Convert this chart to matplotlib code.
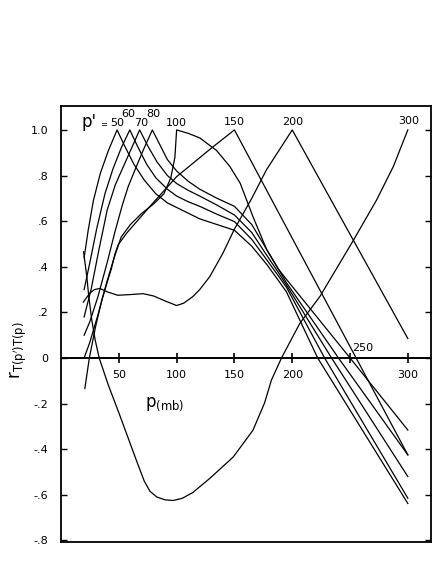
import matplotlib
matplotlib.use("Agg")
import matplotlib.pyplot as plt

# pressure (mb) and correlation values, one curve per p'
p50 = [20, 23.5, 28, 34, 41, 48.5, 55, 63, 72, 82, 92, 100, 110, 120, 135, 150, 165, 178, 188, 195, 222, 300]
r50 = [0.44, 0.56, 0.69, 0.81, 0.91, 1.0, 0.93, 0.85, 0.78, 0.72, 0.68, 0.66, 0.635, 0.61, 0.585, 0.56, 0.49, 0.41, 0.34, 0.29, 0.0, -0.638]

p60 = [20, 25, 31, 38, 45, 52, 59.5, 66, 74, 82, 92, 100, 110, 120, 135, 150, 165, 178, 188, 195, 228, 300]
r60 = [0.30, 0.42, 0.57, 0.72, 0.83, 0.92, 1.0, 0.93, 0.85, 0.79, 0.74, 0.71, 0.685, 0.665, 0.63, 0.598, 0.52, 0.43, 0.36, 0.31, 0.0, -0.615]

p70 = [20, 26, 33, 40, 47, 54, 61, 68, 75, 83, 92, 100, 110, 120, 135, 150, 165, 178, 188, 195, 234, 300]
r70 = [0.18, 0.30, 0.48, 0.65, 0.76, 0.84, 0.92, 1.0, 0.93, 0.86, 0.80, 0.765, 0.735, 0.71, 0.67, 0.627, 0.55, 0.45, 0.375, 0.32, 0.0, -0.52]

p80 = [20, 25, 32, 40, 47, 53, 58, 64, 71, 79, 85, 92, 100, 110, 120, 135, 150, 165, 178, 188, 195, 240, 300]
r80 = [0.10, 0.16, 0.27, 0.42, 0.56, 0.67, 0.75, 0.825, 0.91, 1.0, 0.94, 0.87, 0.82, 0.775, 0.74, 0.70, 0.665, 0.585, 0.475, 0.39, 0.33, 0.0, -0.425]

p100 = [20, 25, 32, 40, 46, 52, 60, 70, 80, 89, 95, 98.5, 100, 110, 120, 134.5, 146, 155, 160.5, 166, 178, 188, 195, 250, 300]
r100 = [0.0, 0.07, 0.19, 0.34, 0.44, 0.53, 0.585, 0.635, 0.675, 0.72, 0.79, 0.88, 1.0, 0.985, 0.965, 0.91, 0.84, 0.766, 0.693, 0.62, 0.474, 0.39, 0.345, 0.0, -0.316]

p150 = [20.6, 24.5, 30, 35.3, 39.6, 43.5, 46.6, 49.4, 56.7, 66.7, 76.8, 100, 130, 150, 300]
r150 = [-0.134, 0.0, 0.14, 0.254, 0.327, 0.39, 0.455, 0.496, 0.547, 0.605, 0.664, 0.795, 0.92, 1.0, -0.425]

p200 = [19.3, 25, 29, 33.5, 40, 49, 60, 71, 80, 90, 100, 106, 114, 120, 128.7, 140, 150, 165, 177.7, 200, 300]
r200 = [0.245, 0.285, 0.30, 0.305, 0.29, 0.275, 0.278, 0.282, 0.272, 0.25, 0.23, 0.24, 0.269, 0.30, 0.357, 0.459, 0.565, 0.70, 0.825, 1.0, 0.085]

p300 = [19.5, 22.3, 24, 26.6, 29.5, 33, 41, 50, 58, 66, 72, 77, 83, 90, 97, 105, 114, 128.7, 149, 166, 176, 182, 190.7, 206.6, 224, 253, 273, 287.4, 300]
r300 = [0.466, 0.357, 0.27, 0.167, 0.08, 0.0, -0.12, -0.24, -0.35, -0.46, -0.54, -0.585, -0.61, -0.622, -0.625, -0.615, -0.59, -0.528, -0.434, -0.317, -0.198, -0.097, 0.0, 0.152, 0.27, 0.517, 0.693, 0.839, 1.0]

curves = [(p50, r50), (p60, r60), (p70, r70), (p80, r80),
          (p100, r100), (p150, r150), (p200, r200), (p300, r300)]

peak_labels = ["50", "60", "70", "80", "100", "150", "200", "300"]
label_x = [48.5, 58, 69, 79.5, 100, 150, 200, 301]
label_y = [1.03, 1.07, 1.03, 1.07, 1.03, 1.035, 1.035, 1.04]

xticks = [50, 100, 150, 200, 250, 300]
yticks = [1.0, 0.8, 0.6, 0.4, 0.2, 0.0, -0.2, -0.4, -0.6, -0.8]
ytick_labels = ["1.0", ".8", ".6", ".4", ".2", "0", "-.2", "-.4", "-.6", "-.8"]

fig = plt.figure(figsize=(4.34, 5.81), dpi=100)
ax = fig.add_axes([0.1406, 0.0671, 0.8524, 0.7505])

for p, r in curves:
    ax.plot(p, r, color="black", lw=0.9)

ax.set_xlim(0, 320)
ax.set_ylim(-0.807, 1.105)

# zero line with its own tick marks
ax.axhline(0, color="black", lw=1.4)
ax.plot(xticks, [0] * len(xticks), ls="none", marker="|", ms=7, mew=1.2, color="black")
for t in xticks:
    if t == 250:
        ax.text(t + 11, 0.045, str(t), ha="center", va="center", fontsize=8)
    else:
        ax.text(t, -0.075, str(t), ha="center", va="center", fontsize=8)

ax.set_xticks([])
ax.set_yticks(yticks)
ax.set_yticklabels(ytick_labels, fontsize=8)
ax.tick_params(axis="y", direction="in", length=4, width=1, pad=9,
               right=True, labelright=False)
for s in ax.spines.values():
    s.set_linewidth(1.3)

# curve labels at the peaks
for lab, x, y in zip(peak_labels, label_x, label_y):
    ax.text(x, y, lab, ha="center", va="center", fontsize=8)
ax.text(24, 1.035, "p'", ha="center", va="center", fontsize=12)
ax.text(36.5, 1.025, "=", ha="center", va="center", fontsize=6)

ax.text(73, -0.2, r"p$_{\mathrm{(mb)}}$", ha="left", va="center", fontsize=12)
ax.text(-0.115, 0.44, r"r$_{\mathrm{T(p')T(p)}}$", transform=ax.transAxes,
        rotation=90, ha="center", va="center", fontsize=12)

fig.savefig("out.png", dpi=100)
